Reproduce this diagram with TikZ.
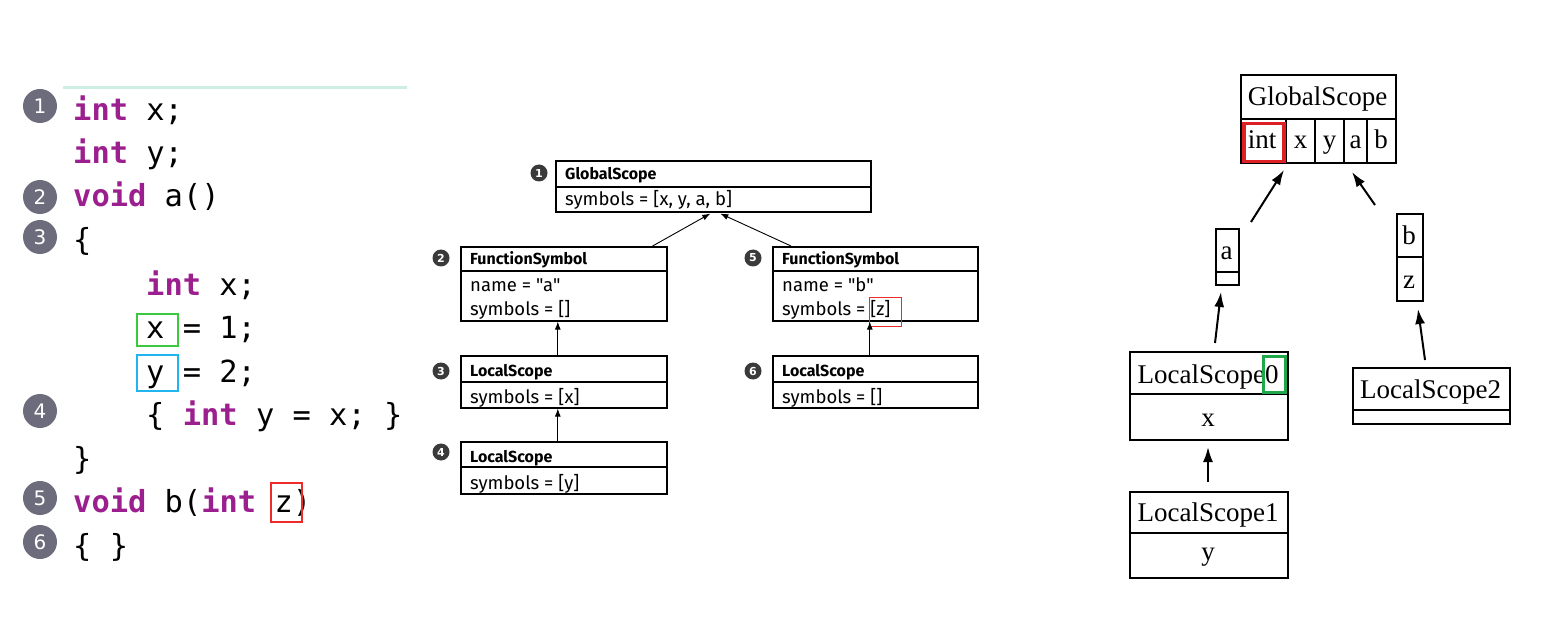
\documentclass[tikz,border=0pt]{standalone}
\usepackage{fontspec}
\usetikzlibrary{arrows.meta,calc}
\newfontfamily\codefont{DejaVu Sans Mono}
\newfontfamily\midfont{Fira Sans}
\newfontfamily\serfont{Liberation Serif}
\newfontfamily\numfont{DejaVu Sans}
\definecolor{kw}{HTML}{9B1F8E}
\definecolor{numgray}{HTML}{6C6C7C}
\definecolor{bulgray}{HTML}{3A3A3A}
\definecolor{hlgreen}{HTML}{3CC83C}
\definecolor{hlblue}{HTML}{22B4EE}
\definecolor{hlred}{HTML}{EE2A2A}
\definecolor{deepred}{HTML}{DD1F26}
\definecolor{deepgreen}{HTML}{1EA84A}
\definecolor{tealline}{HTML}{CDEEE4}
\newcommand\kwd[1]{{\color{kw}\bfseries #1}}
\tikzset{
  codeline/.style={anchor=base west, inner sep=0pt, font=\codefont\fontsize{30.4}{36}\selectfont},
  cnum/.style={circle, fill=numgray, text=white, minimum size=34pt, inner sep=0pt, font=\numfont\fontsize{20}{20}\selectfont},
  hlbox/.style={draw, line width=2pt, inner sep=0pt, anchor=north west},
  mbox/.style={draw, line width=1.6pt, inner sep=0pt, anchor=north west},
  mtext/.style={anchor=base west, inner sep=0pt, font=\midfont\fontsize{18.5}{18.5}\selectfont},
  mbold/.style={mtext, font=\midfont\bfseries\fontsize{16}{16}\selectfont},
  bullet/.style={circle, fill=bulgray, text=white, minimum size=17pt, inner sep=0pt, font=\numfont\bfseries\fontsize{11}{11}\selectfont},
  marrow/.style={line width=0.9pt, -{Latex[length=8pt,width=6pt]}},
  rbox/.style={draw, line width=2pt, inner sep=0pt, anchor=north west},
  rtext/.style={anchor=base, inner sep=0pt, font=\serfont\fontsize{27}{27}\selectfont},
  rarrow/.style={line width=2pt, -{Latex[length=15pt,width=10pt]}},
}
\begin{document}
\begin{tikzpicture}[x=1pt,y=-1pt]
\useasboundingbox (0,0) rectangle (1552,636);
% ---------------- code panel ----------------
\draw[tealline, line width=3pt] (63,88) -- (407,88);
\node[codeline] (l1) at (73,121) {\kwd{int} x;};
\node[codeline] (l2) at (73,164) {\kwd{int} y;};
\node[codeline] (l3) at (73,207) {\kwd{void} a()};
\node[codeline] (l4) at (73,251) {\{};
\node[codeline] (l5) at (146,295) {\kwd{int} x;};
\node[codeline] (l6) at (146,338) {x = 1;};
\node[codeline] (l7) at (146,382) {y = 2;};
\node[codeline] (l8) at (146,425) {\{ \kwd{int} y = x; \}};
\node[codeline] (l9) at (73,469) {\}};
\node[codeline] (l10) at (73,512) {\kwd{void} b(\kwd{int} z)};
\node[codeline] (l11) at (73,556) {\{ \}};
\node[hlbox, draw=hlgreen, minimum width=41pt, minimum height=32pt] (hx) at (136,313) {};
\node[hlbox, draw=hlblue, minimum width=41pt, minimum height=36pt] (hy) at (136,354) {};
\node[hlbox, draw=hlred, minimum width=31pt, minimum height=39pt] (hz) at (270,482) {};
\node[cnum] (c1) at (40,106) {1};
\node[cnum] (c2) at (40,197) {2};
\node[cnum] (c3) at (40,237) {3};
\node[cnum] (c4) at (40,411) {4};
\node[cnum] (c5) at (40,498) {5};
\node[cnum] (c6) at (40,542) {6};
% ---------------- middle diagram ----------------
\node[mbox, minimum width=315pt, minimum height=51pt] (gs) at (555,160) {};
\draw[line width=1.6pt] (gs.west |- 0,187) -- (gs.east |- 0,187);
\node[mbold] (gst) at (565,180) {GlobalScope};
\node[mtext] (gss) at (565,206) {symbols = [x, y, a, b]};
\node[bullet] (b1) at (539,173) {1};

\node[mbox, minimum width=206pt, minimum height=74pt] (fa) at (460,246) {};
\draw[line width=1.6pt] (fa.west |- 0,271) -- (fa.east |- 0,271);
\node[mbold] (fat) at (470,265) {FunctionSymbol};
\node[mtext] (fan) at (470,291) {name = "a"};
\node[mtext] (fas) at (470,316) {symbols = []};
\node[bullet] (b2) at (441,258) {2};

\node[mbox, minimum width=205pt, minimum height=74pt] (fb) at (772,246) {};
\draw[line width=1.6pt] (fb.west |- 0,271) -- (fb.east |- 0,271);
\node[mbold] (fbt) at (782,265) {FunctionSymbol};
\node[mtext] (fbn) at (782,291) {name = "b"};
\node[mtext] (fbs) at (782,316) {symbols = [z]};
\node[hlbox, draw=hlred, line width=1pt, minimum width=32pt, minimum height=29pt] (hzz) at (869,297) {};
\node[bullet] (b5) at (753,258) {5};

\node[mbox, minimum width=206pt, minimum height=52pt] (l3b) at (460,355) {};
\draw[line width=1.6pt] (l3b.west |- 0,382) -- (l3b.east |- 0,382);
\node[mbold] (l3t) at (470,376) {LocalScope};
\node[mtext] (l3s) at (470,403) {symbols = [x]};
\node[bullet] (b3) at (441,371) {3};

\node[mbox, minimum width=206pt, minimum height=52pt] (l4b) at (460,441) {};
\draw[line width=1.6pt] (l4b.west |- 0,467) -- (l4b.east |- 0,467);
\node[mbold] (l4t) at (470,462) {LocalScope};
\node[mtext] (l4s) at (470,489) {symbols = [y]};
\node[bullet] (b4) at (441,452) {4};

\node[mbox, minimum width=205pt, minimum height=52pt] (l6b) at (772,355) {};
\draw[line width=1.6pt] (l6b.west |- 0,382) -- (l6b.east |- 0,382);
\node[mbold] (l6t) at (782,376) {LocalScope};
\node[mtext] (l6s) at (782,403) {symbols = []};
\node[bullet] (b6) at (753,371) {6};

\draw[marrow] ($(fa.north east)+(-15,0)$) -- ($(gs.south)+(-3,1)$);
\draw[marrow] ($(fb.north west)+(19,0)$) -- ($(gs.south)+(7,1)$);
\draw[marrow] ($(l3b.north)+(-6,0)$) -- ($(fa.south)+(-6,0)$);
\draw[marrow] ($(l4b.north)+(-6,0)$) -- ($(l3b.south)+(-6,0)$);
\draw[marrow] ($(l6b.north)+(-5.5,0)$) -- ($(fb.south)+(-5.5,0)$);
% ---------------- right diagram ----------------
\node[rbox, minimum width=155pt, minimum height=88pt] (rg) at (1240,74) {};
\draw[line width=2pt] (rg.west |- 0,119) -- (rg.east |- 0,119);
\foreach \xx in {1286,1315,1344,1367} \draw[line width=2pt] (\xx,119) -- (\xx,162);
\node[rtext] (rgt) at (1317.5,106) {GlobalScope};
\node[rtext] (rint) at (1262,149) {int};
\node[rtext] (rx) at (1300.5,149) {x};
\node[rtext] (ry) at (1329.5,149) {y};
\node[rtext] (ra) at (1355.5,149) {a};
\node[rtext] (rb) at (1381,149) {b};
\node[hlbox, draw=deepred, line width=3.5pt, minimum width=40pt, minimum height=38pt] (hint) at (1242,122) {};

\node[rbox, minimum width=23pt, minimum height=56pt] (ba) at (1215,228) {};
\draw[line width=2pt] (ba.west |- 0,272) -- (ba.east |- 0,272);
\node[rtext] (bat) at (1226.5,260) {a};

\node[rbox, minimum width=26pt, minimum height=87pt] (bb) at (1396,213) {};
\draw[line width=2pt] (bb.west |- 0,257) -- (bb.east |- 0,257);
\node[rtext] (bbt) at (1409,245) {b};
\node[rtext] (bbz) at (1409,288) {z};

\node[rbox, minimum width=158pt, minimum height=88pt] (r0) at (1129,351) {};
\draw[line width=2pt] (r0.west |- 0,394) -- (r0.east |- 0,394);
\node[rtext] (r0t) at (1208,383) {LocalScope0};
\node[rtext] (r0x) at (1208,426) {x};
\node[hlbox, draw=deepgreen, line width=3pt, minimum width=22pt, minimum height=36pt] (h0) at (1262,355) {};

\node[rbox, minimum width=158pt, minimum height=86pt] (r1) at (1129,491) {};
\draw[line width=2pt] (r1.west |- 0,533) -- (r1.east |- 0,533);
\node[rtext] (r1t) at (1208,521) {LocalScope1};
\node[rtext] (r1y) at (1208,560) {y};

\node[rbox, minimum width=157pt, minimum height=56pt] (r2) at (1352,367) {};
\draw[line width=2pt] (r2.west |- 0,410) -- (r2.east |- 0,410);
\node[rtext] (r2t) at (1430.5,398) {LocalScope2};

\draw[rarrow] ($(ba.north)+(23.5,-6)$) -- ($(rg.south west)+(44,6)$);
\draw[rarrow] ($(bb.north)+(-35,-8)$) -- ($(rg.south east)+(-45,8)$);
\draw[rarrow] ($(r0.north)+(6,-8)$) -- ($(ba.south)+(-6.5,6)$);
\draw[rarrow] ($(r2.north)+(-6.5,-7)$) -- ($(bb.south)+(8,7)$);
\draw[rarrow] ($(r1.north)+(-1,-9)$) -- ($(r0.south)+(-1,6)$);
\end{tikzpicture}
\end{document}
